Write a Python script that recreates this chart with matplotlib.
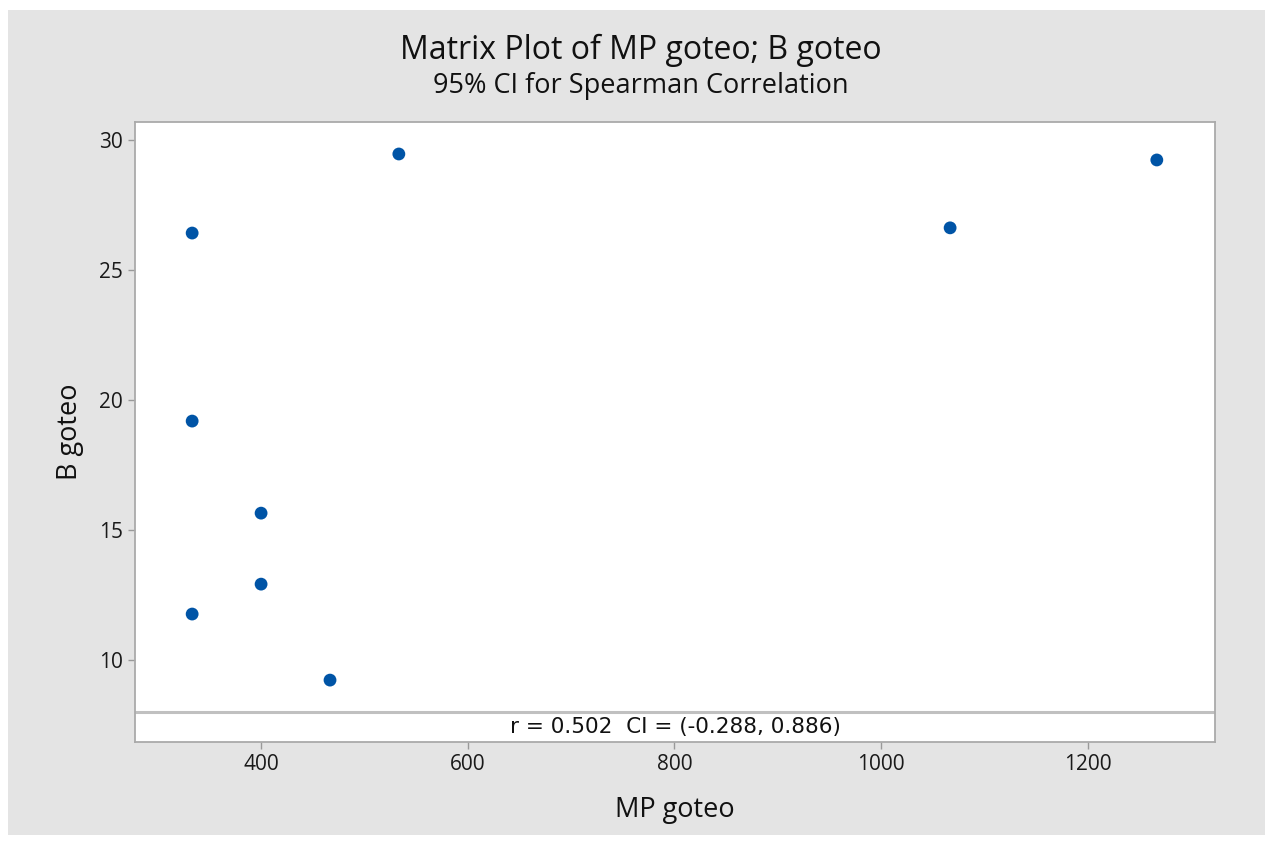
import matplotlib
matplotlib.use("Agg")
import matplotlib.pyplot as plt
from matplotlib.patches import Rectangle

# data
mp_goteo = [333.3, 333.3, 333.3, 400, 400, 466.7, 533.3, 1066.7, 1266.7]
b_goteo = [26.42, 19.19, 11.77, 15.65, 12.92, 9.23, 29.46, 26.62, 29.23]
xticks = [400, 600, 800, 1000, 1200]
yticks = [10, 15, 20, 25, 30]
stats_text = "r = 0.502  CI = (-0.288, 0.886)"

plt.rcParams['font.family'] = ['Open Sans', 'DejaVu Sans']

fig = plt.figure(figsize=(12.72, 8.43), dpi=100, facecolor='white')
fig.patches.append(Rectangle((8/1272, 1-835/843), 1257/1272, 825/843,
                             transform=fig.transFigure, facecolor='#e4e4e4',
                             edgecolor='none', zorder=-10))

ax = fig.add_axes([135/1272, 1-742/843, 1080/1272, 620/843])
ax.set_facecolor('white')
ax.scatter(mp_goteo, b_goteo, s=85, color='#0054a6', zorder=3, edgecolors='none')

ax.set_xlim(278, 1323)
ax.set_ylim(6.85, 30.69)
ax.set_xticks(xticks)
ax.set_yticks(yticks)
ax.tick_params(colors='#999999', labelcolor='#1a1a1a', labelsize=15, length=5, width=1)
for s in ax.spines.values():
    s.set_color('#aaaaaa')
    s.set_linewidth(1.3)

ax.axhline(8.0, color='#c0c0c0', lw=2.2, zorder=2)
ax.text(0.5, (7.42 - 6.85) / (30.69 - 6.85), stats_text, transform=ax.transAxes,
        ha='center', va='center', fontsize=15.5, color='#111111', family='DejaVu Sans')

ax.set_xlabel("MP goteo", fontsize=19.5, color='#111111', labelpad=15)
ax.set_ylabel("B goteo", fontsize=19.5, color='#111111', labelpad=11)

fig.text(641/1272, 1-50/843, "Matrix Plot of MP goteo; B goteo", ha='center', va='center',
         fontsize=23, color='#111111')
fig.text(641/1272, 1-86/843, "95% CI for Spearman Correlation", ha='center', va='center',
         fontsize=19.5, color='#111111')

fig.savefig("out.png", dpi=100, facecolor='white')
